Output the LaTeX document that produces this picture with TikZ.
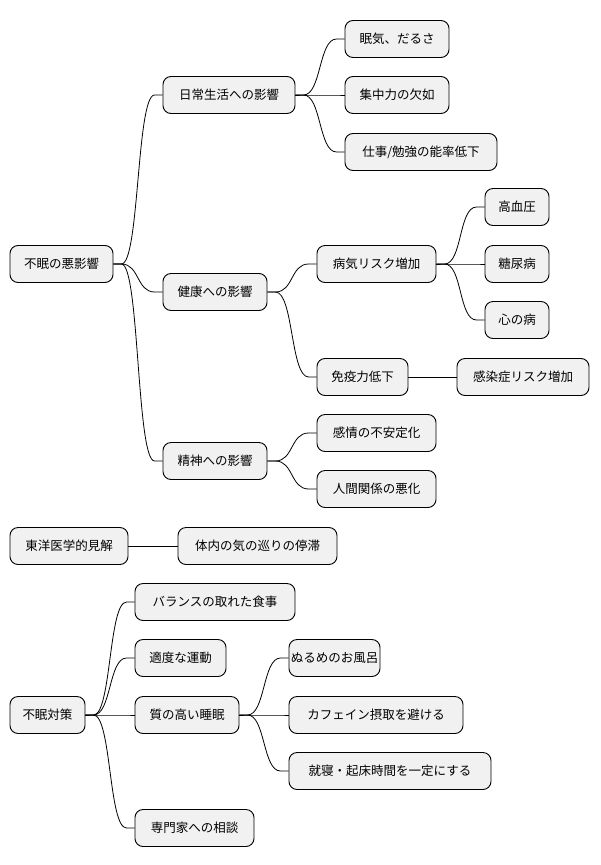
\documentclass[tikz,border=0pt]{standalone}
\usepackage{fontspec}
\setmainfont{Noto Sans CJK JP}
\begin{document}
\begin{tikzpicture}[x=1pt,y=-1pt,
 box/.style={draw=black,fill={rgb,255:red,241;green,241;blue,241},rounded corners=8pt,line width=0.9pt,minimum height=37pt,inner sep=0pt,font=\fontsize{12.5}{14}\selectfont},
 con/.style={line width=0.8pt}]
\useasboundingbox (0,0) rectangle (600,865);
\newcommand\nd[5]{\node[box,minimum width={#3-#2}] (#1) at ({(#2+#3)/2},#4) {#5};}
\newcommand\cn[2]{\draw[con] (#1.east) -- ++(8,0) .. controls +(18,0) and +(-18,0) .. ([xshift=-8pt]#2.west) -- (#2.west);}
\nd{a}{10}{113}{264}{不眠の悪影響}
\nd{a1}{163}{295}{95}{日常生活への影響}
\nd{a11}{345}{449}{39}{眠気、だるさ}
\nd{a12}{345}{449}{95}{集中力の欠如}
\nd{a13}{345}{497}{152}{仕事/勉強の能率低下}
\nd{a2}{163}{267}{292}{健康への影響}
\nd{a21}{317}{436}{264}{病気リスク増加}
\nd{a211}{485}{549}{207}{高血圧}
\nd{a212}{485}{549}{264}{糖尿病}
\nd{a213}{485}{549}{320}{心の病}
\nd{a22}{317}{408}{377}{免疫力低下}
\nd{a221}{457}{589}{377}{感染症リスク増加}
\nd{a3}{163}{267}{461}{精神への影響}
\nd{a31}{317}{436}{433}{感情の不安定化}
\nd{a32}{317}{436}{489}{人間関係の悪化}
\nd{b}{10}{128}{546}{東洋医学的見解}
\nd{b1}{178}{337}{546}{体内の気の巡りの停滞}
\nd{c}{10}{85}{715}{不眠対策}
\nd{c1}{135}{295}{602}{バランスの取れた食事}
\nd{c2}{135}{226}{658}{適度な運動}
\nd{c3}{135}{239}{715}{質の高い睡眠}
\nd{c31}{289}{380}{658}{ぬるめのお風呂}
\nd{c32}{289}{463}{715}{カフェイン摂取を避ける}
\nd{c33}{289}{491}{771}{就寝・起床時間を一定にする}
\nd{c4}{135}{254}{828}{専門家への相談}
\cn{a}{a1}\cn{a}{a2}\cn{a}{a3}
\cn{a1}{a11}\cn{a1}{a12}\cn{a1}{a13}
\cn{a2}{a21}\cn{a2}{a22}
\cn{a21}{a211}\cn{a21}{a212}\cn{a21}{a213}
\draw[con] (a22) -- (a221);
\cn{a3}{a31}\cn{a3}{a32}
\draw[con] (b) -- (b1);
\cn{c}{c1}\cn{c}{c2}\cn{c}{c3}\cn{c}{c4}
\cn{c3}{c31}\cn{c3}{c32}\cn{c3}{c33}
\end{tikzpicture}
\end{document}
